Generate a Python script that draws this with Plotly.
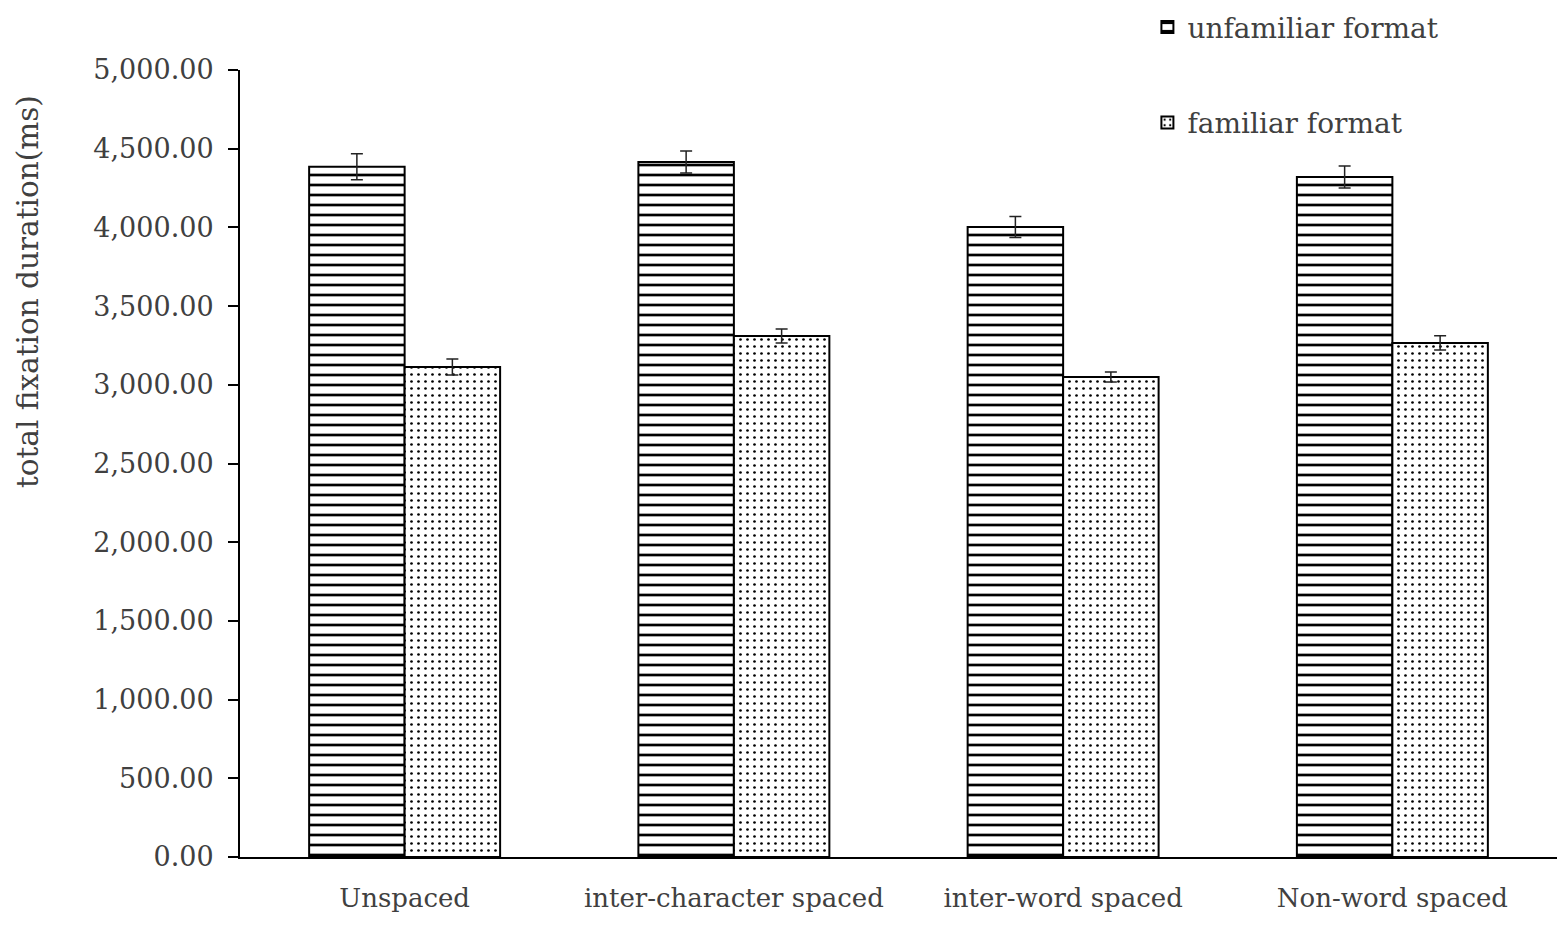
import plotly.graph_objects as go

categories = ["Unspaced", "inter-character spaced", "inter-word spaced", "Non-word spaced"]
unfamiliar = [4385, 4415, 4003, 4320]
familiar = [3113, 3310, 3050, 3266]
unfamiliar_err = [83, 70, 67, 70]
familiar_err = [51, 45, 32, 45]
y_ticks = [0, 500, 1000, 1500, 2000, 2500, 3000, 3500, 4000, 4500, 5000]

FONT = "DejaVu Serif"
TXT = "#404040"

fig = go.Figure()
fig.add_trace(go.Bar(
    name="unfamiliar format", x=categories, y=unfamiliar,
    legendgroup="a",
    marker=dict(color="white", line=dict(color="black", width=2),
                pattern=dict(shape="-", size=10, solidity=0.27, fgcolor="#000000",
                             fgopacity=1, bgcolor="white", fillmode="replace")),
    error_y=dict(type="data", array=unfamiliar_err, color="#222222", thickness=1.5, width=6),
))
fig.add_trace(go.Bar(
    name="familiar format", x=categories, y=familiar,
    legendgroup="b",
    marker=dict(color="white", line=dict(color="black", width=2),
                pattern=dict(shape=".", size=7, solidity=0.12, fgcolor="#000000",
                             fgopacity=1, bgcolor="white", fillmode="replace")),
    error_y=dict(type="data", array=familiar_err, color="#222222", thickness=1.5, width=6),
))

fig.update_layout(
    width=1562, height=928,
    margin=dict(l=240, r=5, t=70, b=71, autoexpand=False),
    paper_bgcolor="white", plot_bgcolor="white",
    barmode="group", bargap=0.42, bargroupgap=0,
    font=dict(family=FONT, size=26, color=TXT),
    showlegend=True,
    legend=dict(x=0.689, y=1.086, xanchor="left", yanchor="top",
                font=dict(family=FONT, size=28, color=TXT),
                tracegroupgap=56, bgcolor="rgba(0,0,0,0)"),
    annotations=[dict(
        text="total fixation duration(ms)", textangle=-90,
        xref="paper", yref="paper", x=-0.161, y=0.719,
        xanchor="center", yanchor="middle", showarrow=False,
        font=dict(family=FONT, size=29.5, color=TXT),
    )],
)
fig.update_xaxes(
    showline=True, linecolor="black", linewidth=2,
    ticks="", showgrid=False, zeroline=False,
    tickfont=dict(family=FONT, size=26, color=TXT),
    ticklabelstandoff=17,
)
fig.update_yaxes(
    range=[0, 5000], tickvals=y_ticks, tickformat=",.2f",
    showline=True, linecolor="black", linewidth=2,
    ticks="outside", ticklen=10, tickwidth=2, tickcolor="black",
    showgrid=False, zeroline=False,
    tickfont=dict(family=FONT, size=27, color=TXT),
    ticklabelstandoff=9,
)

fig.write_html("out.html", config={"displayModeBar": False},
               post_script="document.body.style.margin='0';document.body.style.overflow='hidden';")
